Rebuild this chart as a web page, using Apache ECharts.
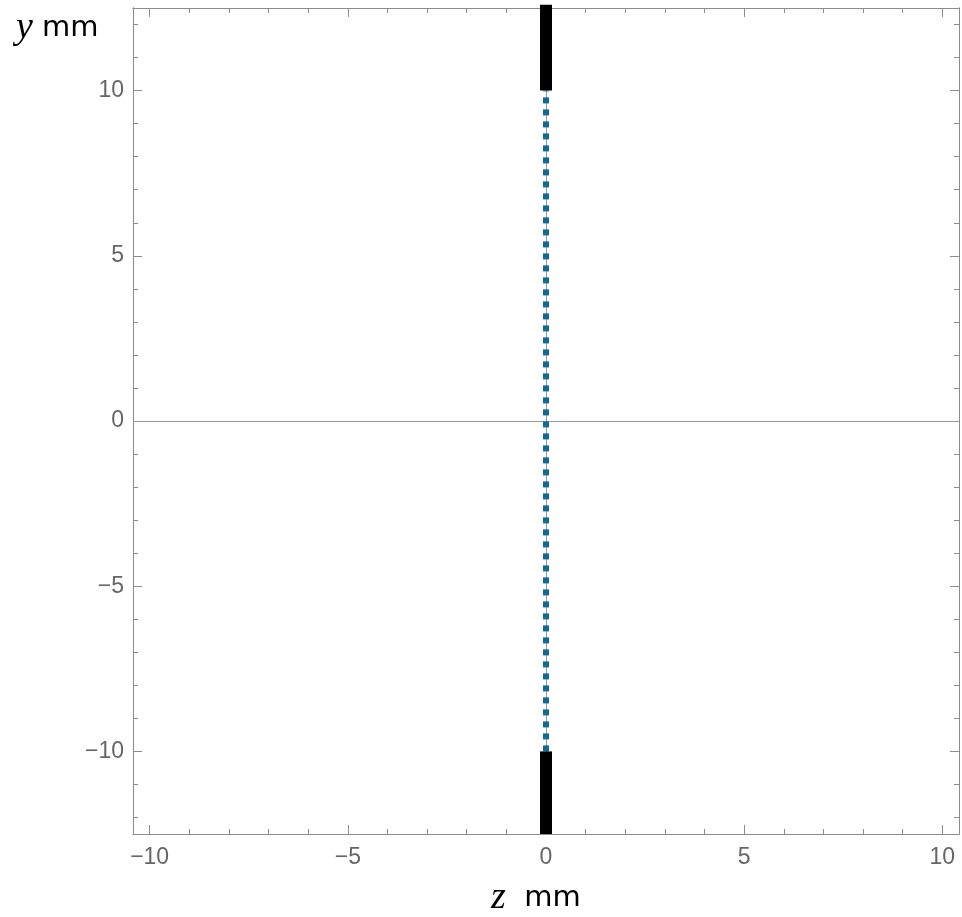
<!DOCTYPE html>
<html>
<head>
<meta charset="utf-8">
<script src="https://cdn.jsdelivr.net/npm/echarts@6/dist/echarts.min.js"></script>
<style>html,body{margin:0;padding:0;background:#fff}#c{width:962px;height:917px}</style>
</head>
<body>
<div id="c"></div>
<script>
const xMajor = [-10, -5, 0, 5, 10];
const xMinor = [-9,-8,-7,-6,-4,-3,-2,-1,1,2,3,4,6,7,8,9];
const yMajor = [-10, -5, 0, 5, 10];
const yMinor = [-12,-11,-9,-8,-7,-6,-4,-3,-2,-1,1,2,3,4,6,7,8,9,11,12];
const xRange = [-10.42, 10.42];
const yRange = [-12.5, 12.5];
const topElectrode = [[0, 10], [0, 12.6]];
const bottomElectrode = [[0, -12.5], [0, -10]];
const beamPath = [[0, -10], [0, 10]];

const frameColor = '#8c8c8c';
const fmt = v => (v < 0 ? '\u2212' + Math.abs(v) : String(v));

function mkX(pos, vals, len, labels) {
  return {
    type: 'value', position: pos, min: xRange[0], max: xRange[1],
    axisLine: { show: true, onZero: false, lineStyle: { color: frameColor, width: 1 } },
    axisTick: { show: true, inside: true, length: len, customValues: vals, lineStyle: { color: frameColor, width: 1 } },
    axisLabel: labels ? { show: true, customValues: vals, formatter: fmt, color: '#666', fontSize: 23, fontFamily: 'Liberation Sans, Arial, sans-serif', margin: 12 } : { show: false },
    splitLine: { show: false }
  };
}
function mkY(pos, vals, len, labels) {
  return {
    type: 'value', position: pos, min: yRange[0], max: yRange[1],
    axisLine: { show: true, onZero: false, lineStyle: { color: frameColor, width: 1 } },
    axisTick: { show: true, inside: true, length: len, customValues: vals, lineStyle: { color: frameColor, width: 1 } },
    axisLabel: labels ? { show: true, customValues: vals, formatter: fmt, color: '#666', fontSize: 23, fontFamily: 'Liberation Sans, Arial, sans-serif', margin: 9 } : { show: false },
    splitLine: { show: false }
  };
}

const richTitle = {
  i: { fontFamily: 'Liberation Serif, serif', fontStyle: 'italic', fontSize: 38, fill: '#000' },
  n: { fontFamily: 'DejaVu Sans, sans-serif', fontSize: 29, fill: '#000' }
};

const chart = echarts.init(document.getElementById('c'), null, { renderer: 'canvas' });
chart.setOption({
  animation: false,
  grid: { left: 133, right: 3, top: 8, bottom: 83, containLabel: false },
  xAxis: [
    mkX('bottom', xMajor, 9, true),
    mkX('bottom', xMinor, 5, false),
    mkX('top', xMajor, 9, false),
    mkX('top', xMinor, 5, false)
  ],
  yAxis: [
    mkY('left', yMajor, 9, true),
    mkY('left', yMinor, 5, false),
    mkY('right', yMajor, 9, false),
    mkY('right', yMinor, 5, false)
  ],
  graphic: [
    { type: 'text', left: 16, top: 9, style: { text: '{i|y}{n| mm}', rich: richTitle } },
    { type: 'text', left: 491, top: 879, style: { text: '{i|z}{n|  mm}', rich: richTitle } }
  ],
  series: [
    {
      type: 'line', data: beamPath, symbol: 'none', silent: true, z: 3,
      lineStyle: { color: '#0f6a99', width: 6, type: [6, 6], cap: 'butt' },
      markLine: {
        silent: true, symbol: 'none', label: { show: false }, z: 1,
        lineStyle: { color: '#999', width: 1, type: 'solid' },
        data: [{ xAxis: 0 }, { yAxis: 0 }]
      }
    },
    {
      type: 'line', data: topElectrode, symbol: 'none', silent: true, clip: false, z: 4,
      lineStyle: { color: '#000', width: 12, cap: 'butt' }
    },
    {
      type: 'line', data: bottomElectrode, symbol: 'none', silent: true, z: 4,
      lineStyle: { color: '#000', width: 12, cap: 'butt' }
    }
  ]
});
</script>
</body>
</html>
